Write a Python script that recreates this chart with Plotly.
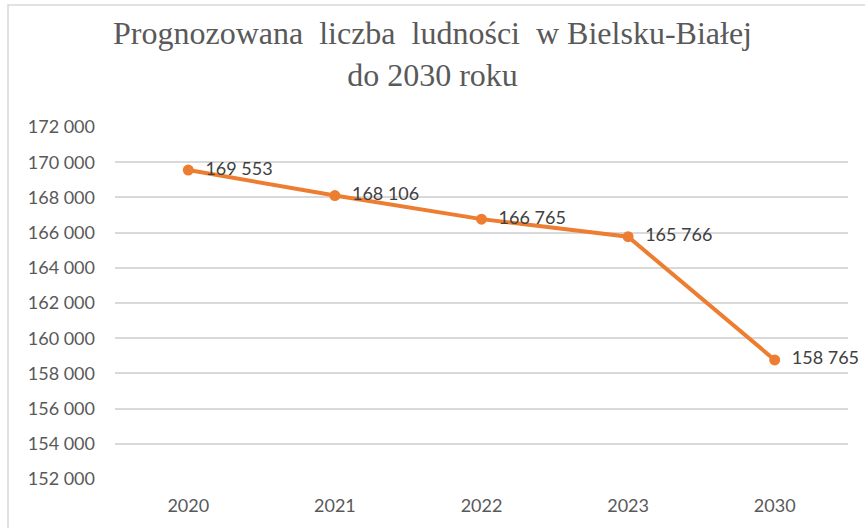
import plotly.graph_objects as go

years = ["2020", "2021", "2022", "2023", "2030"]
population = [169553, 168106, 166765, 165766, 158765]
y_ticks = list(range(152000, 172001, 2000))
y_tick_labels = [f"{v:,}".replace(",", " ") for v in y_ticks]
point_labels = ["  " + f"{v:,}".replace(",", " ") for v in population]
title_text = "Prognozowana  liczba  ludności  w Bielsku-Białej<br>do 2030 roku"

fig = go.Figure()
fig.add_trace(go.Scatter(
    x=years, y=population, mode="lines+markers+text",
    line=dict(color="#ED7D31", width=4),
    marker=dict(color="#ED7D31", size=11),
    text=point_labels, textposition="middle right",
    textfont=dict(family="Lato", size=18, color="#404040"),
    cliponaxis=False, showlegend=False,
))

PLOT_H = 528 - 127 - 49
PLOT_W = 865 - 115 - 17

fig.update_layout(
    width=865, height=528,
    margin=dict(l=115, r=17, t=127, b=49),
    paper_bgcolor="white", plot_bgcolor="white",
    xaxis=dict(
        type="category", range=[-0.5, 4.5], showgrid=False, zeroline=False,
        showline=False, ticks="", ticklabelstandoff=14,
        tickfont=dict(family="Lato", size=18, color="#595959"),
    ),
    yaxis=dict(
        range=[152000, 172000], tickvals=y_ticks, ticktext=y_tick_labels,
        showgrid=True, gridcolor="#D9D9D9", gridwidth=1.5, zeroline=False,
        showline=False, ticks="", ticklabelstandoff=19, automargin=False,
        tickfont=dict(family="Lato", size=18, color="#595959"),
    ),
    annotations=[dict(
        text=title_text, xref="paper", yref="paper",
        x=(432 - 115) / PLOT_W, y=1 + (127 - 54) / PLOT_H,
        xanchor="center", yanchor="middle", showarrow=False, align="center",
        font=dict(family="Liberation Serif", size=32, color="#595959"),
    )],
    shapes=[dict(type="rect", xref="paper", yref="paper",
                 x0=(8 - 115) / PLOT_W, x1=(880 - 115) / PLOT_W,
                 y0=-1, y1=1 + (127 - 5) / PLOT_H,
                 line=dict(color="#D9D9D9", width=1.5), layer="below")],
)

fig.write_html("out.html", config={"displayModeBar": False},
               post_script="document.body.style.margin='0';")
